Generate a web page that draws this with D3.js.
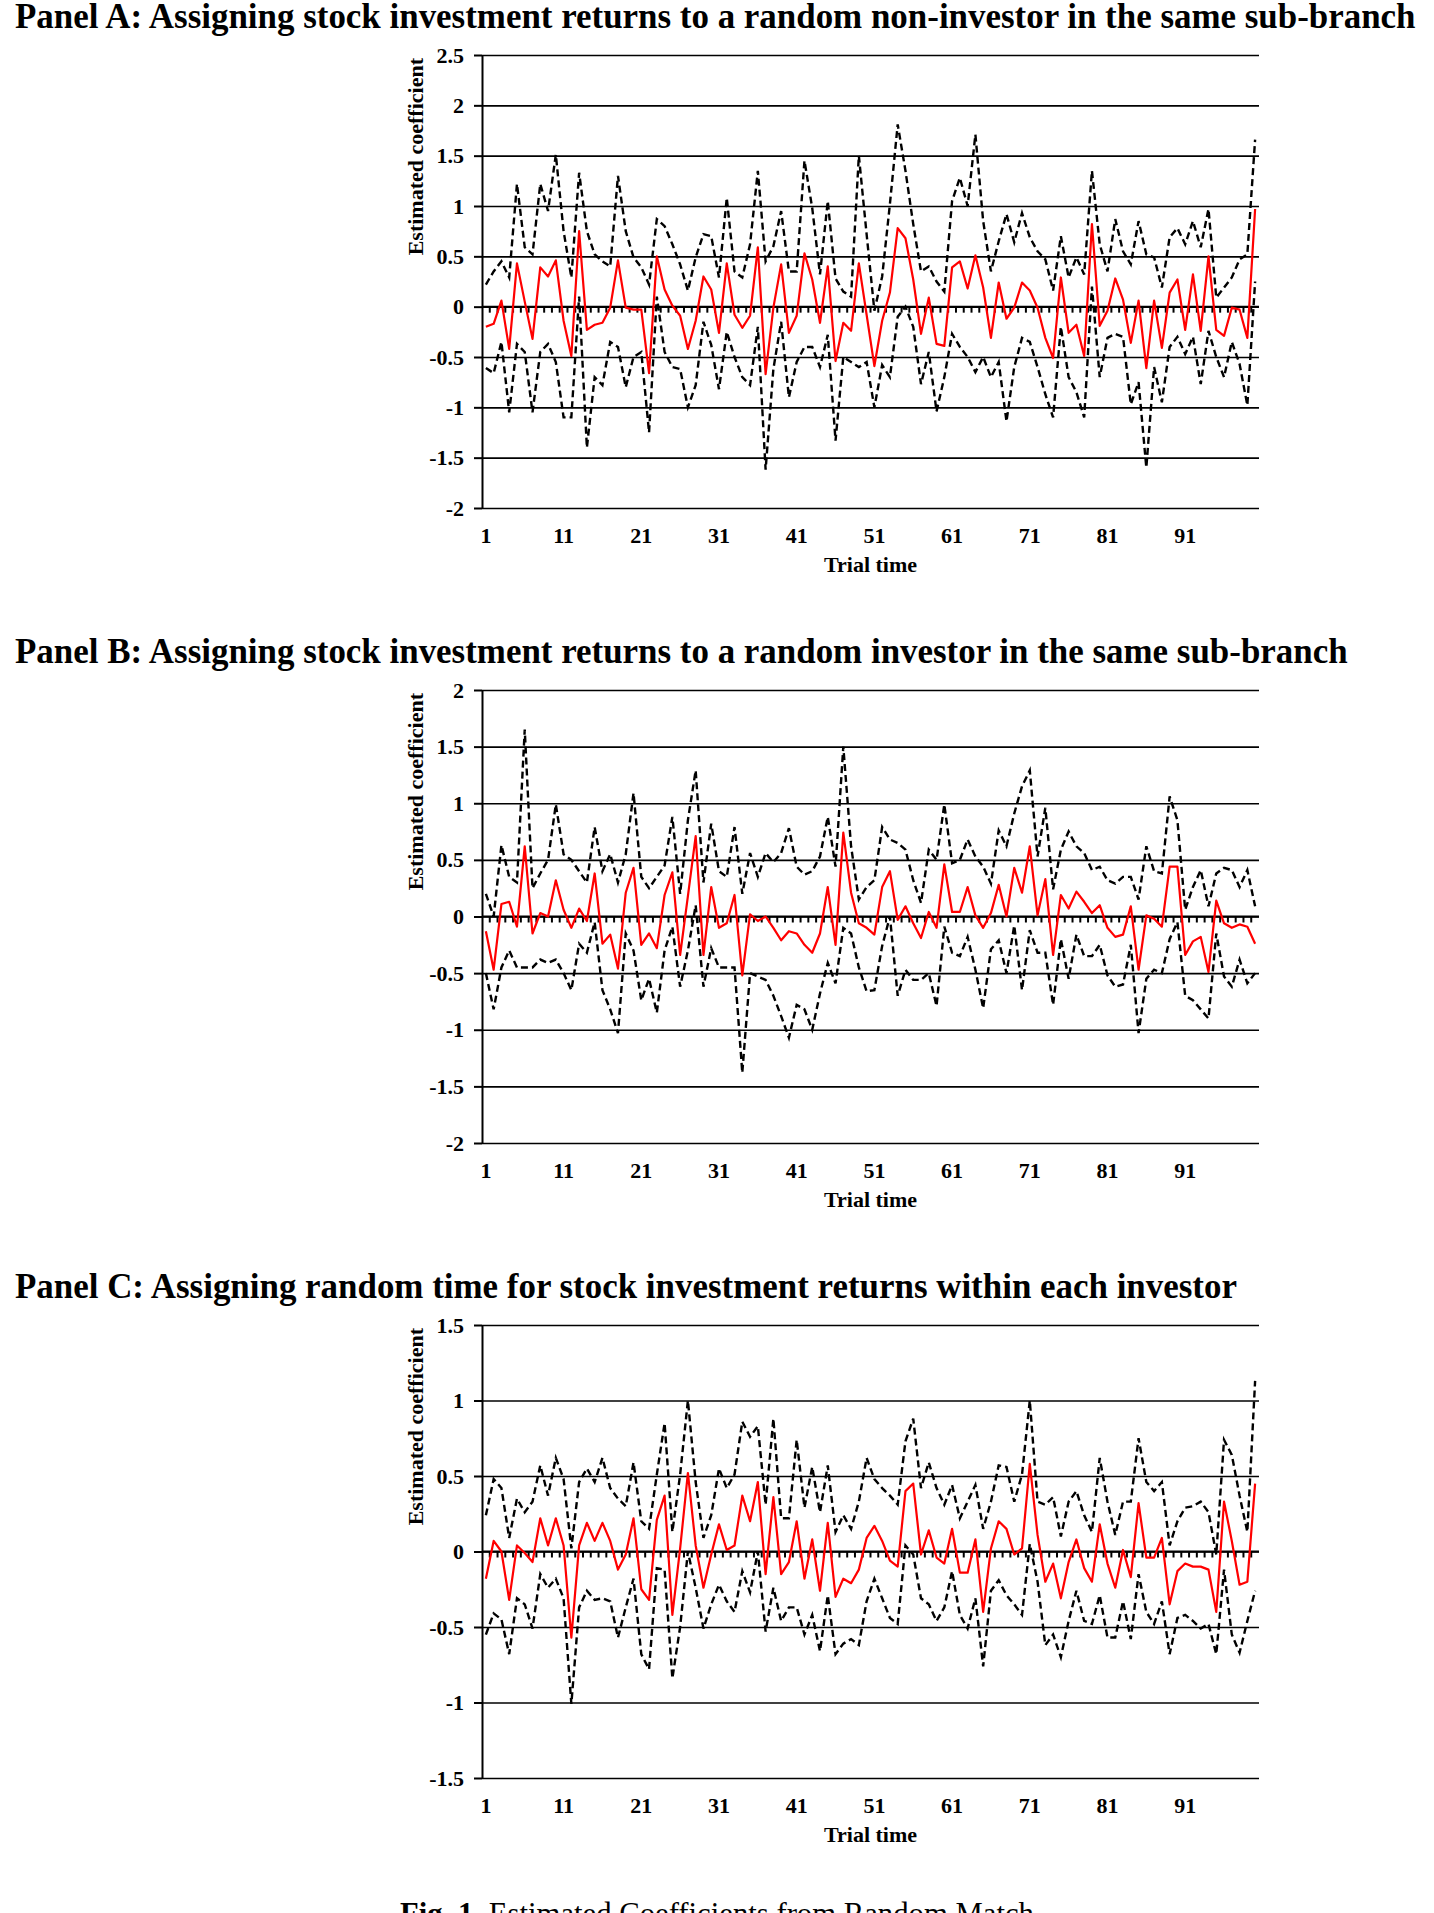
<!DOCTYPE html>
<html lang="en">
<head>
<meta charset="utf-8">
<title>Estimated Coefficients from Random Match</title>
<script src="https://cdn.jsdelivr.net/npm/d3@7"></script>
<style>
  body { margin: 0; background: #fff; }
  svg { display: block; }
  text { font-family: "Liberation Serif", "Times New Roman", serif; font-weight: bold; fill: #000; }
  .grid line { stroke: #000; stroke-width: 1.6; }
  .grid path { display: none; }
  .yaxis path, .yaxis line { stroke: #000; stroke-width: 2; }
  .zero line, .zero path { stroke: #000; stroke-width: 2; }
  .coef { fill: none; stroke: #ff0000; stroke-width: 2.2; stroke-linejoin: round; }
  .band { fill: none; stroke: #000; stroke-width: 2.4; stroke-dasharray: 7,4; }
</style>
</head>
<body>
<script>
  // trial numbers on the category axis
  var trials = d3.range(1, 101);
  var xTickLabels = [1, 11, 21, 31, 41, 51, 61, 71, 81, 91];

  var titleA = "Panel A: Assigning stock investment returns to a random non-investor in the same sub-branch";
  var titleB = "Panel B: Assigning stock investment returns to a random investor in the same sub-branch";
  var titleC = "Panel C: Assigning random time for stock investment returns within each investor";

  var yTicksA = [2.5, 2, 1.5, 1, 0.5, 0, -0.5, -1, -1.5, -2];
  var yTicksB = [2, 1.5, 1, 0.5, 0, -0.5, -1, -1.5, -2];
  var yTicksC = [1.5, 1, 0.5, 0, -0.5, -1, -1.5];

  // Panel A
  var coefA = [-0.20, -0.17, 0.06, -0.42, 0.43, 0.05, -0.32, 0.39, 0.30, 0.46,
    -0.14, -0.49, 0.75, -0.23, -0.18, -0.16, -0.01, 0.46, -0.01, -0.03,
    -0.03, -0.66, 0.50, 0.17, 0.01, -0.09, -0.42, -0.14, 0.30, 0.17,
    -0.26, 0.43, -0.08, -0.21, -0.09, 0.59, -0.67, -0.01, 0.42, -0.26,
    -0.09, 0.53, 0.27, -0.16, 0.40, -0.54, -0.16, -0.24, 0.43, -0.08,
    -0.59, -0.14, 0.14, 0.78, 0.68, 0.27, -0.27, 0.09, -0.37, -0.39,
    0.39, 0.45, 0.18, 0.51, 0.19, -0.31, 0.24, -0.12, -0.01, 0.24,
    0.16, -0.01, -0.31, -0.51, 0.29, -0.26, -0.18, -0.49, 0.82, -0.19,
    -0.04, 0.28, 0.07, -0.36, 0.06, -0.61, 0.06, -0.41, 0.14, 0.27,
    -0.23, 0.32, -0.24, 0.50, -0.23, -0.29, -0.01, -0.03, -0.31, 0.97];
  var upperA = [0.22, 0.35, 0.45, 0.29, 1.22, 0.59, 0.52, 1.22, 0.95, 1.51,
    0.75, 0.29, 1.33, 0.75, 0.52, 0.45, 0.40, 1.30, 0.75, 0.49,
    0.39, 0.22, 0.87, 0.80, 0.62, 0.42, 0.16, 0.49, 0.72, 0.70,
    0.29, 1.08, 0.35, 0.29, 0.62, 1.35, 0.45, 0.60, 0.95, 0.35,
    0.35, 1.45, 0.98, 0.32, 1.05, 0.28, 0.15, 0.10, 1.50, 0.72,
    -0.04, 0.30, 1.02, 1.81, 1.35, 0.82, 0.35, 0.40, 0.25, 0.15,
    1.05, 1.28, 1.00, 1.71, 0.85, 0.35, 0.65, 0.92, 0.64, 0.93,
    0.69, 0.55, 0.47, 0.16, 0.70, 0.29, 0.49, 0.32, 1.35, 0.62,
    0.35, 0.87, 0.55, 0.42, 0.85, 0.52, 0.49, 0.19, 0.69, 0.78,
    0.62, 0.85, 0.59, 0.97, 0.09, 0.19, 0.29, 0.47, 0.52, 1.66];
  var lowerA = [-0.61, -0.66, -0.35, -1.05, -0.37, -0.45, -1.05, -0.45, -0.37, -0.55,
    -1.10, -1.10, 0.10, -1.40, -0.70, -0.78, -0.35, -0.40, -0.80, -0.50,
    -0.45, -1.25, 0.10, -0.45, -0.60, -0.62, -1.00, -0.78, -0.15, -0.38,
    -0.82, -0.25, -0.50, -0.70, -0.78, -0.20, -1.62, -0.62, -0.15, -0.90,
    -0.55, -0.40, -0.40, -0.60, -0.28, -1.33, -0.50, -0.55, -0.60, -0.55,
    -1.00, -0.58, -0.70, -0.10, 0.00, -0.20, -0.77, -0.45, -1.04, -0.70,
    -0.27, -0.40, -0.50, -0.65, -0.50, -0.70, -0.55, -1.14, -0.60, -0.31,
    -0.35, -0.60, -0.87, -1.10, -0.20, -0.70, -0.85, -1.10, 0.20, -0.70,
    -0.31, -0.27, -0.30, -0.97, -0.75, -1.60, -0.60, -0.95, -0.40, -0.30,
    -0.47, -0.30, -0.77, -0.24, -0.50, -0.70, -0.35, -0.57, -0.98, 0.25];

  // Panel B
  var coefB = [-0.13, -0.47, 0.11, 0.13, -0.09, 0.62, -0.15, 0.03, 0.00, 0.32,
    0.06, -0.10, 0.07, -0.04, 0.38, -0.24, -0.16, -0.46, 0.21, 0.43,
    -0.25, -0.15, -0.28, 0.19, 0.39, -0.34, 0.18, 0.71, -0.34, 0.26,
    -0.10, -0.06, 0.19, -0.52, 0.02, -0.04, 0.00, -0.10, -0.21, -0.13,
    -0.15, -0.25, -0.32, -0.15, 0.26, -0.25, 0.74, 0.21, -0.06, -0.10,
    -0.16, 0.26, 0.40, -0.03, 0.09, -0.06, -0.19, 0.04, -0.10, 0.46,
    0.04, 0.04, 0.26, 0.01, -0.10, 0.03, 0.28, 0.00, 0.43, 0.21,
    0.62, 0.01, 0.33, -0.34, 0.19, 0.07, 0.22, 0.13, 0.03, 0.10,
    -0.10, -0.18, -0.16, 0.09, -0.47, 0.01, -0.02, -0.09, 0.44, 0.44,
    -0.34, -0.22, -0.18, -0.49, 0.14, -0.06, -0.10, -0.07, -0.09, -0.24];
  var upperB = [0.20, 0.00, 0.63, 0.35, 0.30, 1.65, 0.25, 0.38, 0.50, 0.99,
    0.55, 0.50, 0.40, 0.30, 0.79, 0.40, 0.55, 0.30, 0.55, 1.09,
    0.35, 0.25, 0.35, 0.45, 0.88, 0.20, 0.85, 1.29, 0.30, 0.82,
    0.40, 0.35, 0.79, 0.20, 0.56, 0.35, 0.56, 0.48, 0.56, 0.78,
    0.44, 0.37, 0.40, 0.53, 0.88, 0.44, 1.50, 0.62, 0.15, 0.26,
    0.32, 0.79, 0.68, 0.65, 0.59, 0.32, 0.12, 0.59, 0.50, 0.99,
    0.47, 0.50, 0.68, 0.53, 0.44, 0.29, 0.76, 0.62, 0.91, 1.15,
    1.29, 0.53, 0.96, 0.24, 0.59, 0.75, 0.62, 0.56, 0.41, 0.44,
    0.32, 0.29, 0.35, 0.35, 0.15, 0.62, 0.40, 0.38, 1.06, 0.85,
    0.06, 0.26, 0.41, 0.09, 0.38, 0.43, 0.41, 0.26, 0.41, 0.09];
  var lowerB = [-0.50, -0.82, -0.45, -0.30, -0.45, -0.45, -0.45, -0.38, -0.41, -0.38,
    -0.50, -0.65, -0.24, -0.32, -0.05, -0.65, -0.82, -1.03, -0.15, -0.30,
    -0.74, -0.55, -0.85, -0.30, -0.09, -0.62, -0.30, 0.10, -0.62, -0.28,
    -0.45, -0.45, -0.45, -1.38, -0.50, -0.53, -0.56, -0.70, -0.88, -1.07,
    -0.78, -0.82, -1.00, -0.68, -0.41, -0.59, -0.10, -0.15, -0.45, -0.66,
    -0.65, -0.26, 0.00, -0.70, -0.47, -0.56, -0.56, -0.50, -0.79, -0.09,
    -0.32, -0.35, -0.18, -0.47, -0.81, -0.29, -0.21, -0.50, -0.08, -0.65,
    -0.12, -0.32, -0.32, -0.78, -0.20, -0.55, -0.16, -0.35, -0.35, -0.25,
    -0.52, -0.62, -0.60, -0.25, -1.03, -0.55, -0.47, -0.50, -0.20, -0.05,
    -0.70, -0.74, -0.82, -0.90, -0.15, -0.53, -0.62, -0.38, -0.59, -0.50];

  // Panel C
  var coefC = [-0.18, 0.07, 0.00, -0.32, 0.04, -0.01, -0.07, 0.22, 0.04, 0.22,
    0.04, -0.57, 0.04, 0.19, 0.07, 0.19, 0.07, -0.12, -0.02, 0.22,
    -0.25, -0.32, 0.21, 0.37, -0.42, 0.02, 0.52, 0.04, -0.24, -0.02,
    0.18, 0.01, 0.04, 0.37, 0.20, 0.46, -0.15, 0.36, -0.15, -0.07,
    0.20, -0.18, 0.08, -0.26, 0.19, -0.30, -0.18, -0.21, -0.12, 0.09,
    0.17, 0.07, -0.06, -0.10, 0.40, 0.45, -0.02, 0.14, -0.04, -0.08,
    0.15, -0.14, -0.14, 0.08, -0.40, 0.02, 0.20, 0.15, -0.02, 0.02,
    0.58, 0.11, -0.20, -0.08, -0.31, -0.07, 0.08, -0.11, -0.20, 0.18,
    -0.08, -0.24, 0.01, -0.17, 0.32, -0.04, -0.04, 0.09, -0.35, -0.13,
    -0.08, -0.10, -0.10, -0.12, -0.40, 0.33, 0.07, -0.22, -0.20, 0.45];
  var upperC = [0.24, 0.48, 0.42, 0.09, 0.35, 0.26, 0.33, 0.57, 0.37, 0.62,
    0.48, 0.02, 0.46, 0.55, 0.46, 0.62, 0.42, 0.35, 0.30, 0.59,
    0.20, 0.15, 0.51, 0.85, 0.13, 0.51, 1.00, 0.46, 0.09, 0.24,
    0.55, 0.42, 0.51, 0.86, 0.76, 0.83, 0.31, 0.88, 0.22, 0.22,
    0.74, 0.29, 0.56, 0.26, 0.57, 0.13, 0.24, 0.15, 0.33, 0.62,
    0.48, 0.42, 0.37, 0.31, 0.73, 0.88, 0.42, 0.59, 0.42, 0.31,
    0.44, 0.22, 0.33, 0.44, 0.15, 0.33, 0.57, 0.56, 0.33, 0.51,
    1.00, 0.33, 0.31, 0.36, 0.10, 0.33, 0.40, 0.24, 0.13, 0.62,
    0.33, 0.11, 0.33, 0.33, 0.75, 0.46, 0.40, 0.46, 0.04, 0.20,
    0.29, 0.30, 0.33, 0.26, -0.02, 0.74, 0.64, 0.37, 0.13, 1.13];
  var lowerC = [-0.55, -0.41, -0.45, -0.68, -0.31, -0.35, -0.51, -0.15, -0.24, -0.18,
    -0.31, -1.01, -0.37, -0.26, -0.32, -0.31, -0.33, -0.57, -0.37, -0.18,
    -0.68, -0.78, -0.11, -0.12, -0.84, -0.50, 0.00, -0.24, -0.51, -0.35,
    -0.22, -0.33, -0.40, -0.13, -0.27, 0.00, -0.53, -0.24, -0.46, -0.37,
    -0.37, -0.55, -0.42, -0.66, -0.29, -0.68, -0.61, -0.58, -0.62, -0.33,
    -0.18, -0.31, -0.44, -0.48, 0.04, -0.02, -0.31, -0.35, -0.46, -0.37,
    -0.13, -0.42, -0.51, -0.31, -0.76, -0.26, -0.19, -0.29, -0.35, -0.42,
    0.05, -0.20, -0.62, -0.55, -0.70, -0.46, -0.26, -0.46, -0.48, -0.29,
    -0.57, -0.57, -0.33, -0.58, -0.15, -0.40, -0.48, -0.33, -0.68, -0.44,
    -0.42, -0.46, -0.51, -0.48, -0.68, -0.12, -0.55, -0.67, -0.46, -0.26];

  var panels = [
    {title: titleA, top: 55, domain: [-2, 2.5], ticks: yTicksA, coef: coefA, upper: upperA, lower: lowerA},
    {title: titleB, top: 690, domain: [-2, 2], ticks: yTicksB, coef: coefB, upper: upperB, lower: lowerB},
    {title: titleC, top: 1325, domain: [-1.5, 1.5], ticks: yTicksC, coef: coefC, upper: upperC, lower: lowerC}
  ];

  var W = 1434, H = 1913;
  var left = 482, right = 1259, plotH = 453;

  var svg = d3.select("body").append("svg")
    .attr("width", W)
    .attr("height", H);

  var x = d3.scaleBand().domain(trials).range([left, right]);
  var bw = x.bandwidth();

  // fit the panel titles to the width they take in the figure
  var probe = svg.append("text").style("font-size", "30px").text(titleA);
  var titleSize = 30 * 1401 / probe.node().getComputedTextLength();
  probe.remove();

  panels.forEach(function(p) {
    var y = d3.scaleLinear().domain(p.domain).range([p.top + plotH, p.top]);
    var g = svg.append("g");

    g.append("text")
      .attr("x", 15)
      .attr("y", p.top - 27)
      .style("font-size", titleSize + "px")
      .text(p.title);

    // horizontal gridlines
    g.append("g")
      .attr("class", "grid")
      .attr("transform", "translate(" + left + ",0)")
      .call(d3.axisLeft(y).tickValues(p.ticks).tickSize(-(right - left)).tickFormat(""));

    // category axis crossing at zero, tick marks between categories
    var zero = g.append("g").attr("class", "zero");
    zero.append("line")
      .attr("x1", left).attr("x2", right)
      .attr("y1", y(0)).attr("y2", y(0));
    zero.selectAll("line.tk")
      .data(trials.slice(1))
      .enter().append("line")
      .attr("class", "tk")
      .attr("x1", function(d) { return x(d); })
      .attr("x2", function(d) { return x(d); })
      .attr("y1", y(0))
      .attr("y2", y(0) + 6);

    var yAxis = g.append("g")
      .attr("class", "yaxis")
      .attr("transform", "translate(" + left + ",0)")
      .call(d3.axisLeft(y).tickValues(p.ticks).tickSize(8).tickSizeOuter(0).tickPadding(10)
        .tickFormat(function(d) { return String(d); }));
    yAxis.selectAll("text")
      .style("font-size", "22px")
      .style("font-family", "'Liberation Serif', 'Times New Roman', serif")
      .style("font-weight", "bold")
      .attr("fill", "#000");

    g.selectAll("text.xl")
      .data(xTickLabels)
      .enter().append("text")
      .attr("class", "xl")
      .attr("x", function(d) { return x(d) + bw / 2; })
      .attr("y", p.top + plotH + 35)
      .attr("text-anchor", "middle")
      .style("font-size", "22px")
      .text(function(d) { return d; });

    g.append("text")
      .attr("x", (left + right) / 2)
      .attr("y", p.top + plotH + 64)
      .attr("text-anchor", "middle")
      .style("font-size", "22px")
      .text("Trial time");

    g.append("text")
      .attr("transform", "translate(423," + (p.top + 3) + ") rotate(-90)")
      .attr("text-anchor", "end")
      .style("font-size", "22px")
      .text("Estimated coefficient");

    var line = d3.line()
      .x(function(d, i) { return x(trials[i]) + bw / 2; })
      .y(function(d) { return y(d); });

    g.append("path").attr("class", "band").attr("d", line(p.upper));
    g.append("path").attr("class", "band").attr("d", line(p.lower));
    g.append("path").attr("class", "coef").attr("d", line(p.coef));
  });

  // figure caption, cut by the bottom edge of the page
  var cap = svg.append("text")
    .attr("x", 717)
    .attr("text-anchor", "middle")
    .style("font-size", "28px")
    .style("font-weight", "normal");
  cap.append("tspan").style("font-weight", "bold").text("Fig. 1.");
  cap.append("tspan").text(" Estimated Coefficients from Random Match");
  var capSize = 28 * 634 / cap.node().getComputedTextLength();
  cap.style("font-size", capSize + "px")
    .attr("y", 1904 + capSize * 0.66);
</script>
</body>
</html>
